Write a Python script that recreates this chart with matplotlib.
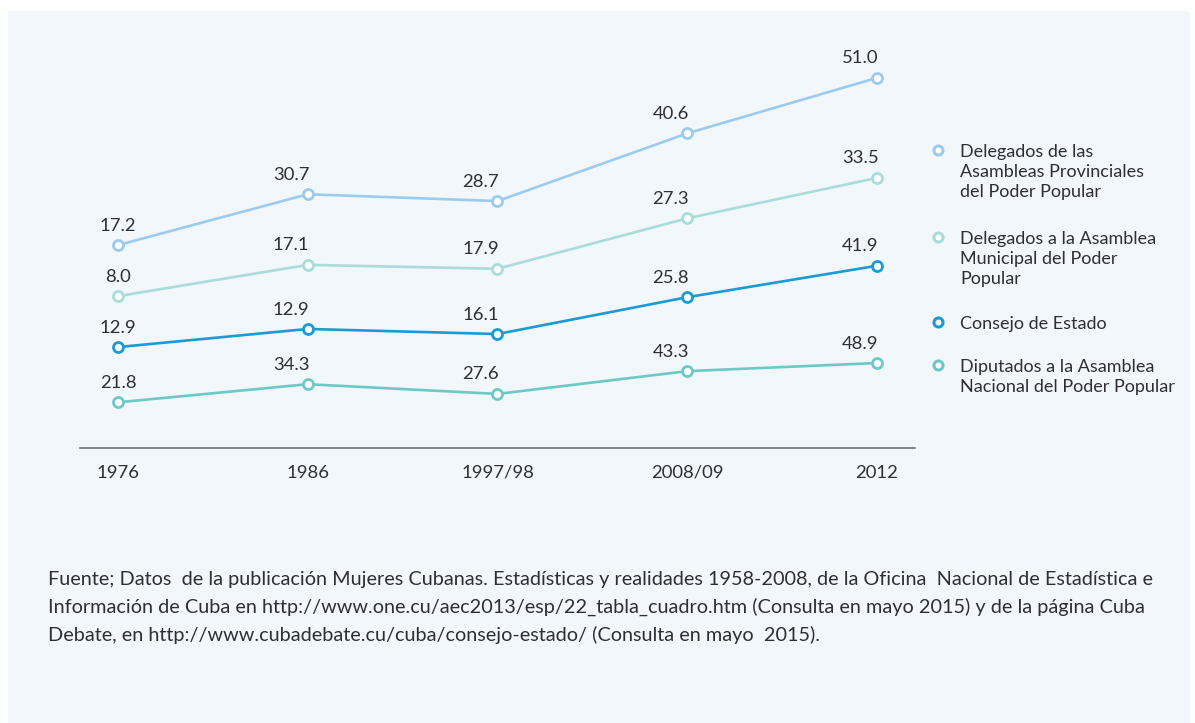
import matplotlib
matplotlib.use("Agg")
import matplotlib.pyplot as plt
from matplotlib.lines import Line2D
from matplotlib.patches import Rectangle
import numpy as np

plt.rcParams['font.family'] = ['Lato', 'DejaVu Sans']

# ---------------- data ----------------
periods = ["1976", "1986", "1997/98", "2008/09", "2012"]
series_names = [
    "Diputados a la Asamblea\nNacional del Poder Popular",
    "Consejo de Estado",
    "Delegados a la Asamblea\nMunicipal del Poder\nPopular",
    "Delegados de las\nAsambleas Provinciales\ndel Poder Popular",
]
diputados = [21.8, 34.3, 27.6, 43.3, 48.9]
consejo = [12.9, 12.9, 16.1, 25.8, 41.9]
municipal = [8.0, 17.1, 17.9, 27.3, 33.5]
provincial = [17.2, 30.7, 28.7, 40.6, 51.0]
source_text = ("Fuente; Datos  de la publicación Mujeres Cubanas. Estadísticas y realidades 1958-2008, de la Oficina  Nacional de Estadística e\n"
               "Información de Cuba en http://www.one.cu/aec2013/esp/22_tabla_cuadro.htm (Consulta en mayo 2015) y de la página Cuba\n"
               "Debate, en http://www.cubadebate.cu/cuba/consejo-estado/ (Consulta en mayo  2015).")

# ---------------- style / layout ----------------
colors = ["#6ccac6", "#1a9bd7", "#a9dcdb", "#9dcbed"]
layer_gap = [9.7, 34.9, 62.0, 80.0]   # visual separation added to each stacked layer
text_color = "#2f2f33"
W, H = 1195, 723

fig = plt.figure(figsize=(W / 100, H / 100), dpi=100, facecolor="white")
fig.patches.append(Rectangle((8 / W, 0), (1190 - 8) / W, (H - 11) / H,
                             transform=fig.transFigure, facecolor="#f2f7fc",
                             edgecolor="none", zorder=-10))

ax = fig.add_axes([80 / W, (H - 448) / H, 835 / W, 388 / H])
ax.set_facecolor("none")
ax.set_zorder(5)
x = np.arange(len(periods))

values = [diputados, consejo, municipal, provincial]
cum = np.cumsum(np.array(values, dtype=float), axis=0)

for i, (vals, c) in enumerate(zip(values, colors)):
    y = cum[i] + layer_gap[i]
    ax.plot(x, y, color=c, lw=1.9, marker="o", ms=7.2, mew=2.0,
            mfc="white", mec=c, zorder=3, solid_capstyle="round")
    for j, (xx, yy, v) in enumerate(zip(x, y, vals)):
        dx = 0 if j == 0 else -12
        ax.annotate(f"{v:.1f}", (xx, yy), xytext=(dx, 14), textcoords="offset points",
                    ha="center", va="center", fontsize=13.3, color=text_color)

ax.set_xlim(-0.2, len(periods) - 1 + 0.2)
ax.set_ylim(0, 388 / 1.45)
for s in ["top", "left", "right"]:
    ax.spines[s].set_visible(False)
ax.spines["bottom"].set_color("#707070")
ax.spines["bottom"].set_linewidth(1.2)
ax.set_yticks([])
ax.set_xticks(x)
ax.set_xticklabels(periods, fontsize=13.3, color=text_color)
ax.tick_params(axis="x", length=0, pad=12)

# ---------------- legend (manual) ----------------
leg_order = [3, 2, 1, 0]
leg_y = [150, 237, 322, 365]
for k, yy in zip(leg_order, leg_y):
    fig.add_artist(Line2D([938 / W], [1 - yy / H], transform=fig.transFigure,
                          marker="o", ms=6.5, mew=2.2, mfc="white",
                          mec=colors[k], ls="none"))
    fig.text(960 / W, 1 - (yy - 6) / H, series_names[k], fontsize=13,
             color=text_color, va="top", ha="left", linespacing=1.3)

# ---------------- source ----------------
fig.text(48 / W, 1 - 571 / H, source_text, fontsize=14.3, color=text_color,
         va="top", ha="left", linespacing=1.64)

fig.savefig("out.png", dpi=100, facecolor="white")
